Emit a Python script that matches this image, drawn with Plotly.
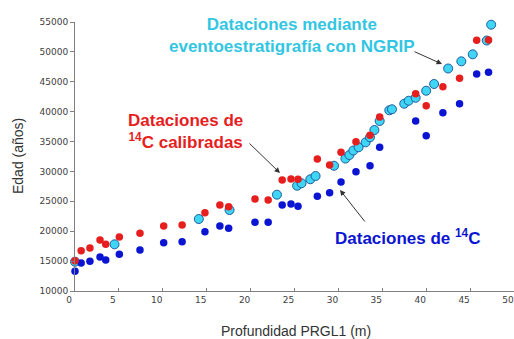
import plotly.graph_objects as go

# Depths (m) shared by the radiocarbon series
depth_c14 = [0, 0.7, 1.7, 2.85, 3.5, 5.05, 7.4, 10.1, 12.2, 14.8, 16.5, 17.5,
             20.5, 22.0, 23.6, 24.6, 25.4, 27.6, 29.0, 30.3, 32.0, 33.6, 34.7,
             38.8, 40.0, 41.9, 43.8, 45.75, 47.1]

# Calibrated 14C ages (years)
age_c14_cal = [15070, 16740, 17190, 18530, 17810, 19030, 19650, 20870, 21040,
               23100, 24390, 24100, 25390, 25220, 28570, 28740, 28690, 32080,
               31080, 33200, 34980, 36040, 39110, 43000, 41000, 44180, 45580,
               51940, 52000]

# Uncalibrated 14C ages (years)
age_c14 = [13300, 14680, 14970, 15690, 15190, 16130, 16860, 18080, 18250,
           19920, 20870, 20490, 21490, 21490, 24390, 24550, 24170, 25840,
           26440, 28230, 29960, 30960, 34040, 38440, 35980, 39830, 41330,
           46300, 46580]

# Event-stratigraphy ages tuned to NGRIP
depth_ngrip = [0, 4.5, 14.1, 17.6, 23.0, 25.3, 25.8, 26.8, 27.4, 29.5, 30.8,
               31.25, 31.7, 32.3, 33.1, 33.6, 34.1, 34.7, 35.8, 36.1, 37.5,
               38.0, 38.8, 40.0, 40.9, 42.5, 44.0, 45.3, 46.9, 47.4]
age_ngrip = [14900, 17810, 22040, 23550, 26110, 27610, 28020, 28690, 29240,
             30950, 32150, 32750, 33500, 34040, 34870, 35710, 36930, 38440,
             40230, 40400, 41330, 41830, 42330, 43500, 44630, 47220, 48420,
             49590, 51900, 54550]

x_ticks = [0, 5, 10, 15, 20, 25, 30, 35, 40, 45, 50]
y_ticks = [10000, 15000, 20000, 25000, 30000, 35000, 40000, 45000, 50000, 55000]
y_tick_text = [str(v) for v in y_ticks]

RED = "#e61e1e"
BLUE = "#0a14d2"
CYAN = "#3fd6f5"
CYAN_TEXT = "#33c6e2"

fig = go.Figure()
fig.add_trace(go.Scatter(
    x=depth_ngrip, y=age_ngrip, mode="markers", cliponaxis=False,
    marker=dict(size=9, color=CYAN, line=dict(color="#1f5c9e", width=1)),
    name="NGRIP"))
fig.add_trace(go.Scatter(
    x=depth_c14, y=age_c14, mode="markers", cliponaxis=False,
    marker=dict(size=7.5, color=BLUE), name="14C"))
fig.add_trace(go.Scatter(
    x=depth_c14, y=age_c14_cal, mode="markers", cliponaxis=False,
    marker=dict(size=7.5, color=RED), name="14C cal"))

label_font = "Liberation Sans, Arial, sans-serif"

# Plot area spans pixels x 75..514, y 22..291
def px_x(p):
    return (p - 75) / 439

def px_y(p):
    return (291 - p) / 269

annotations = []

# Group labels
annotations.append(dict(
    xref="paper", yref="paper", x=px_x(292), y=px_y(35),
    text="Dataciones mediante<br>eventoestratigrafía con NGRIP",
    showarrow=False, align="center", xanchor="center", yanchor="middle",
    font=dict(family=label_font, size=17, color=CYAN_TEXT, weight="bold")))
annotations.append(dict(
    xref="paper", yref="paper", x=px_x(185), y=px_y(131),
    text="Dataciones de<br><sup>14</sup>C calibradas",
    showarrow=False, align="center", xanchor="center", yanchor="middle",
    font=dict(family=label_font, size=17, color=RED, weight="bold")))
annotations.append(dict(
    xref="paper", yref="paper", x=px_x(408), y=px_y(237),
    text="Dataciones de <sup>14</sup>C",
    showarrow=False, align="center", xanchor="center", yanchor="middle",
    font=dict(family=label_font, size=17, color=BLUE, weight="bold")))

# Pointer arrows (tail pixel -> head pixel)
for (x0, y0, x1, y1) in [(413, 51, 442, 64), (248, 142, 280, 173), (366, 223, 340, 190)]:
    annotations.append(dict(
        xref="paper", yref="paper", x=px_x(x1), y=px_y(y1),
        ax=x0 - x1, ay=y0 - y1,
        text="", showarrow=True, arrowhead=2, arrowsize=1.1, arrowwidth=1,
        arrowcolor="#333333", standoff=0))

# Axis titles
annotations.append(dict(
    xref="paper", yref="paper", x=px_x(296), y=px_y(331),
    text="Profundidad PRGL1 (m)", showarrow=False,
    xanchor="center", yanchor="middle",
    font=dict(family=label_font, size=14, color="#333333")))
annotations.append(dict(
    xref="paper", yref="paper", x=px_x(18), y=px_y(156),
    text="Edad (años)", showarrow=False, textangle=-90,
    xanchor="center", yanchor="middle",
    font=dict(family=label_font, size=14, color="#333333")))

fig.update_layout(
    width=514, height=339,
    margin=dict(l=75, r=0, t=22, b=48),
    paper_bgcolor="white", plot_bgcolor="white",
    showlegend=False,
    annotations=annotations,
    xaxis=dict(range=[0, 50], tickvals=x_ticks, showgrid=False, zeroline=False,
               showline=True, linecolor="#808080", linewidth=1,
               ticks="inside", ticklen=3, tickcolor="#808080",
               ticklabelshift=-6,
               tickfont=dict(family="DejaVu Sans", size=9, color="#404040")),
    yaxis=dict(range=[10000, 55000], tickvals=y_ticks, ticktext=y_tick_text,
               showgrid=False, zeroline=False,
               showline=True, linecolor="#808080", linewidth=1,
               ticks="outside", ticklen=4, tickcolor="#808080",
               tickfont=dict(family="DejaVu Sans", size=9, color="#404040")),
)

fig.write_html("out.html")
